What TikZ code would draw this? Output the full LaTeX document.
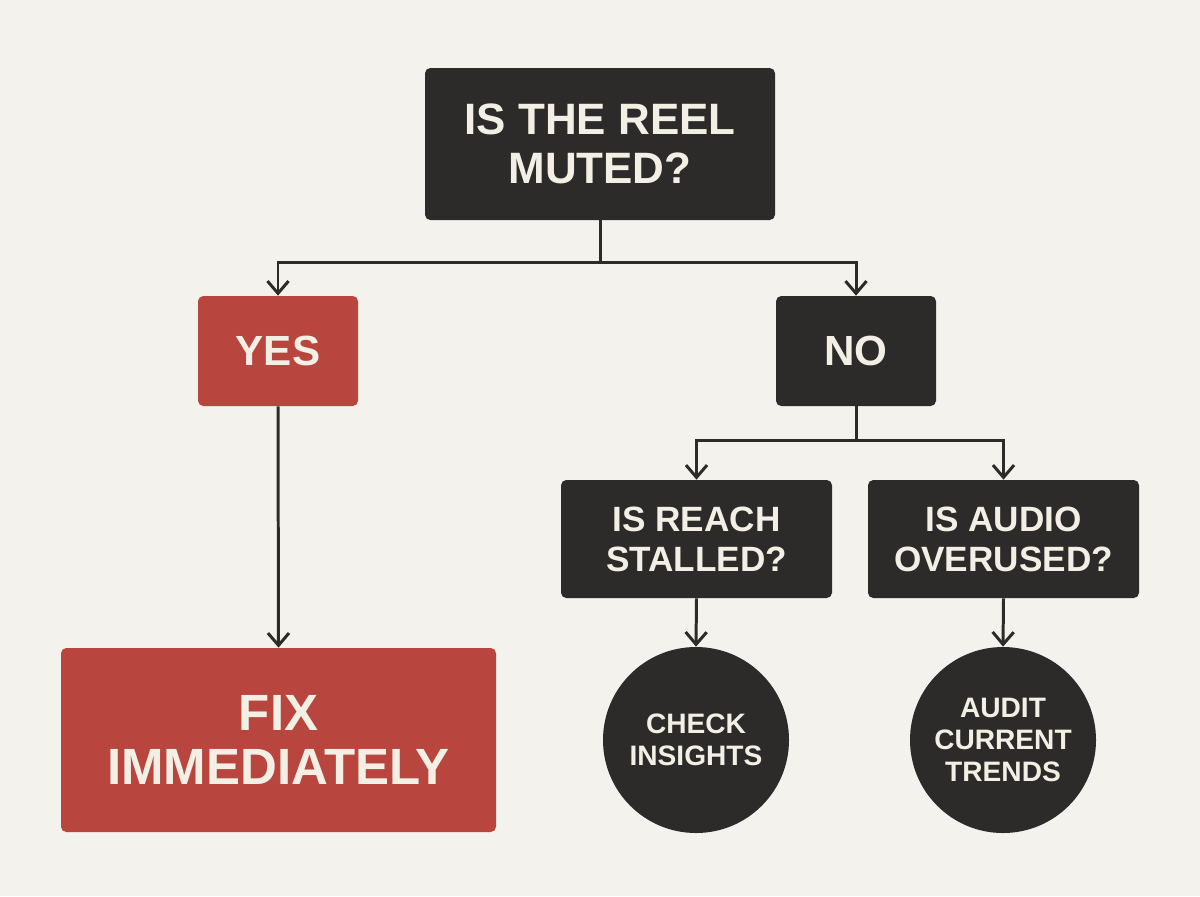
\documentclass[tikz,border=0pt]{standalone}
\usepackage{fontspec}
\setmainfont{Liberation Sans}
\usepackage{tikz}
\usetikzlibrary{arrows.meta,shapes.geometric}
\definecolor{paper}{HTML}{F4F2ED}
\definecolor{ink}{HTML}{2C2B29}
\definecolor{alert_red}{HTML}{B8463F}
\definecolor{chalk}{HTML}{F3EFE4}

\begin{document}
\begin{tikzpicture}[>={Straight Barb[length=7pt,width=12pt,line width=1.7pt]},
              box/.style={rectangle,rounded corners=3pt,text=chalk,align=center,inner sep=0pt},
              darkbox/.style={box,fill=ink},
              redbox/.style={box,fill=alert_red},
              endcircle/.style={circle,fill=ink,text=chalk,align=center,inner sep=0pt,minimum size=3.72cm,font=\bfseries\fontsize{16}{18}\selectfont},
              link/.style={line width=1.7pt,ink}]
              \fill[paper] (0,0) rectangle (24,-17.92);
              \useasboundingbox (0,0) rectangle (24,-17.92);
              \node[darkbox,minimum width=7cm,minimum height=3.04cm,font=\bfseries\fontsize{25}{27.5}\selectfont] (muted) at (12,-2.88) {IS THE REEL\\MUTED?};
              \node[redbox,minimum width=3.2cm,minimum height=2.2cm,font=\bfseries\fontsize{24}{26}\selectfont] (yes) at (5.56,-7.02) {YES};
              \node[darkbox,minimum width=3.2cm,minimum height=2.2cm,font=\bfseries\fontsize{24}{26}\selectfont] (no) at (17.12,-7.02) {NO};
              \node[darkbox,minimum width=5.42cm,minimum height=2.36cm,font=\bfseries\fontsize{20}{22.7}\selectfont] (reach) at (13.93,-10.78) {IS REACH\\STALLED?};
              \node[darkbox,minimum width=5.42cm,minimum height=2.36cm,font=\bfseries\fontsize{20}{22.7}\selectfont] (audio) at (20.07,-10.78) {IS AUDIO\\OVERUSED?};
              \node[redbox,minimum width=8.7cm,minimum height=3.68cm,font=\bfseries\fontsize{29}{30.6}\selectfont] (fix) at (5.57,-14.8) {FIX\\IMMEDIATELY};
              \node[endcircle] (insights) at (13.92,-14.8) {CHECK\\INSIGHTS};
              \node[endcircle] (trends) at (20.06,-14.8) {AUDIT\\CURRENT\\TRENDS};
              \coordinate (split1) at (12,-5.24);
              \coordinate (split2) at (17.12,-8.8);
              \draw[link] (muted.south) -- (split1);
              \draw[link,->] (split1) -| (yes.north);
              \draw[link,->] (split1) -| (no.north);
              \draw[link,->] (yes.south) -- (fix.north);
              \draw[link] (no.south) -- (split2);
              \draw[link,->] (split2) -| (reach.north);
              \draw[link,->] (split2) -| (audio.north);
              \draw[link,->] (reach.south) -- (insights.north);
              \draw[link,->] (audio.south) -- (trends.north);
          \end{tikzpicture}
\end{document}
